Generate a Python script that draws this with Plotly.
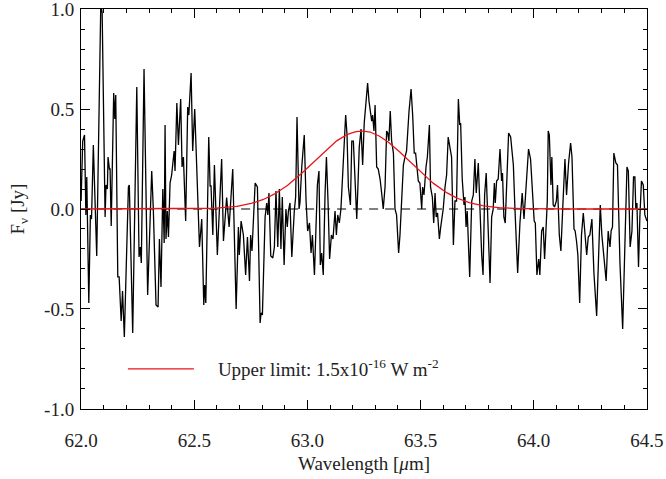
import numpy as np
import plotly.graph_objects as go

wavelength = [
    62.000, 62.007, 62.015, 62.021, 62.025, 62.034, 62.041, 62.046, 62.054, 62.069,
    62.087, 62.093, 62.106, 62.110, 62.116, 62.119, 62.125, 62.128, 62.133, 62.144,
    62.149, 62.153, 62.162, 62.168, 62.177, 62.183, 62.191, 62.203, 62.209, 62.213,
    62.228, 62.246, 62.256, 62.261, 62.266, 62.278, 62.294, 62.312, 62.319, 62.331,
    62.340, 62.346, 62.353, 62.361, 62.367, 62.371,
    62.375, 62.381, 62.386, 62.393, 62.400, 62.411, 62.415, 62.423, 62.430, 62.440,
    62.446, 62.452, 62.462, 62.471, 62.476, 62.486, 62.493, 62.502, 62.514, 62.523,
    62.533, 62.542, 62.546, 62.551, 62.564, 62.570, 62.574, 62.582, 62.589, 62.593,
    62.602, 62.621, 62.629, 62.643, 62.654, 62.670, 62.685, 62.695, 62.699, 62.707,
    62.717, 62.727, 62.735, 62.744, 62.749, 62.755, 62.769, 62.779,
    62.791, 62.795, 62.801, 62.813, 62.820, 62.825, 62.830, 62.838, 62.847, 62.854,
    62.861, 62.869, 62.876, 62.883, 62.889, 62.897, 62.905, 62.911, 62.916, 62.923,
    62.931, 62.942, 62.948, 62.954, 62.963, 62.967, 62.975, 62.986, 62.994, 63.001,
    63.009, 63.016, 63.022, 63.031, 63.038, 63.044, 63.051, 63.057, 63.063, 63.070,
    63.078, 63.084, 63.091, 63.098, 63.106, 63.113, 63.122, 63.128, 63.134, 63.141,
    63.148, 63.157, 63.162, 63.169, 63.175, 63.181, 63.190, 63.196, 63.203,
    63.210, 63.218, 63.223, 63.229, 63.237, 63.244, 63.251, 63.259, 63.266, 63.272,
    63.279, 63.284, 63.288, 63.294, 63.299, 63.306, 63.313, 63.321, 63.328, 63.335,
    63.343, 63.350, 63.355, 63.360, 63.366, 63.372, 63.380, 63.387, 63.394, 63.403,
    63.409, 63.416, 63.424, 63.431, 63.438, 63.449, 63.458, 63.465, 63.472, 63.478,
    63.484, 63.490, 63.497, 63.505, 63.509, 63.515, 63.524, 63.530, 63.539, 63.544,
    63.552, 63.558, 63.564, 63.569, 63.575, 63.583, 63.589, 63.600, 63.608, 63.615,
    63.622, 63.630,
    63.637, 63.645, 63.652, 63.659, 63.667, 63.673, 63.677, 63.684, 63.692, 63.696,
    63.701, 63.706, 63.711, 63.717, 63.726, 63.733, 63.740, 63.746, 63.755, 63.762,
    63.770, 63.776, 63.783, 63.790, 63.799, 63.807, 63.814, 63.821, 63.826, 63.830,
    63.836, 63.843, 63.851, 63.858, 63.862, 63.868, 63.874, 63.882, 63.889, 63.898,
    63.910, 63.917, 63.929, 63.939, 63.949, 63.957, 63.968, 63.977, 63.986, 63.995,
    64.002, 64.007, 64.014, 64.022, 64.027,
    64.035, 64.042, 64.048, 64.054, 64.060, 64.064, 64.069, 64.076, 64.080, 64.086,
    64.092, 64.100, 64.105, 64.113, 64.120, 64.128, 64.138, 64.145, 64.154, 64.163,
    64.169, 64.178, 64.183, 64.189, 64.195, 64.203, 64.211, 64.219, 64.226, 64.234,
    64.241, 64.248, 64.257, 64.266, 64.278, 64.285, 64.294, 64.301, 64.310, 64.320,
    64.329, 64.337, 64.342, 64.348, 64.354, 64.363, 64.370, 64.381, 64.393, 64.403,
    64.412, 64.418, 64.426, 64.434, 64.441, 64.447, 64.451, 64.456, 64.463, 64.469,
    64.476, 64.484, 64.491, 64.500,
]

flux = [
    0.04, 0.34, 0.37, -0.03, 0.16, -0.47, -0.03, -0.05, 0.32, -0.235,
    1.03, 0.98, -0.04, 0.12, 0.10, 0.26, 0.20, 0.20, -0.085, 0.58,
    0.45, 0.57, -0.34, -0.34, -0.56, -0.41, -0.64, -0.03, 0.11, 0.12,
    -0.62, 0.61, -0.24, -0.19, -0.27, 0.70, -0.43, 0.19, 0.00, -0.48,
    -0.49, -0.15, -0.39, 0.10, -0.17, 0.42,
    -0.15, -0.01, -0.14, 0.13, 0.17, 0.29, 0.19, 0.53, 0.32, 0.55,
    0.21, 0.26, -0.06, 0.51, 0.47, 0.68, 0.29, 0.50, 0.04, -0.19,
    -0.05, -0.48, -0.38, -0.47, 0.36, 0.115, 0.115, -0.13, 0.22, 0.09,
    -0.23, 0.25, -0.16, 0.057, -0.09, 0.20, -0.50, -0.09, -0.23, -0.06,
    -0.13, -0.33, -0.14, -0.36, -0.13, -0.21, 0.13, 0.11,
    -0.57, -0.52, -0.53, -0.04, 0.03, -0.03, 0.08, -0.235, -0.245, -0.19,
    0.09, -0.19, 0.10, -0.20, 0.06, -0.28, 0.00, -0.09, -0.01, 0.03,
    -0.24, -0.01, 0.06, 0.46, 0.00, 0.03, 0.21, 0.37, 0.04, -0.11,
    -0.07, -0.22, -0.13, -0.33, -0.10, 0.12, 0.19, -0.28, -0.22, -0.33,
    0.08, 0.26, 0.04, -0.25, -0.13, -0.15, -0.01, -0.13, -0.03, -0.07,
    0.00, 0.22, 0.29, 0.47, 0.37, 0.11, 0.02, 0.34, 0.34,
    0.14, -0.05, 0.11, 0.31, 0.40, 0.22, 0.43, 0.55, 0.63, 0.54,
    0.48, 0.44, 0.47, 0.39, 0.52, 0.21, 0.20, 0.15, 0.08, 0.00,
    0.11, 0.39, 0.38, 0.34, 0.49, 0.34, 0.28, 0.00, -0.03, -0.22,
    -0.13, 0.05, 0.22, 0.26, 0.29, 0.49, 0.60, 0.47, 0.28, 0.28,
    0.22, 0.14, 0.13, 0.00, 0.11, 0.07, 0.21, 0.26, 0.42, 0.11,
    0.06, -0.07, 0.08, -0.04, -0.02, -0.15, -0.09, 0.00, 0.11, 0.17,
    0.36, 0.31,
    0.26, -0.18, 0.04, 0.04, 0.55, 0.42, 0.43, 0.15, 0.02, 0.06,
    -0.09, -0.01, -0.19, -0.34, 0.04, 0.07, 0.25, 0.08, 0.23, -0.04,
    -0.23, -0.33, 0.07, 0.18, -0.17, -0.37, -0.04, 0.00, 0.13, 0.03,
    0.14, 0.15, 0.30, 0.14, 0.18, -0.04, -0.07, 0.22, 0.38, 0.36,
    0.22, 0.00, -0.32, -0.07, 0.08, -0.05, 0.15, 0.30, 0.25, 0.05,
    -0.06, -0.07, -0.33, -0.25, -0.33,
    -0.11, -0.09, -0.25, -0.05, 0.04, 0.39, 0.37, 0.12, 0.26, 0.02,
    0.01, 0.04, 0.12, -0.13, -0.21, 0.00, 0.25, 0.07, 0.23, 0.33,
    0.26, -0.10, -0.11, -0.16, -0.23, -0.47, -0.13, -0.02, -0.14, -0.23,
    -0.14, -0.13, -0.05, -0.32, -0.535, -0.24, 0.02, -0.13, -0.23, -0.36,
    -0.11, -0.19, -0.11, -0.09, 0.28, 0.23, 0.22, -0.27, -0.60, -0.17,
    0.21, 0.19, -0.19, -0.11, 0.16, 0.16, 0.00, 0.03, -0.29, -0.04,
    0.14, 0.12, -0.03, -0.06,
]

# Gaussian upper-limit line model
line_center = 63.24   # micron
line_peak = 0.39      # Jy
line_fwhm = 0.50      # micron
legend_label = "\u00a0\u00a0\u00a0\u00a0Upper limit: 1.5x10<sup>-16</sup> W m<sup>-2</sup>"

x_ticks = [62.0, 62.5, 63.0, 63.5, 64.0, 64.5]
y_ticks = [-1.0, -0.5, 0.0, 0.5, 1.0]

xm = np.linspace(62.0, 64.5, 600)
sig = line_fwhm / (2 * np.sqrt(2 * np.log(2)))
model = line_peak * np.exp(-0.5 * ((xm - line_center) / sig) ** 2)

FONT = "Liberation Serif, Times New Roman, serif"

fig = go.Figure()
fig.add_trace(go.Scatter(x=[62.0, 64.5], y=[0, 0], mode="lines",
                         line=dict(color="black", width=1, dash="9px,7px"),
                         showlegend=False, hoverinfo="skip"))
fig.add_trace(go.Scatter(x=wavelength, y=flux, mode="lines",
                         line=dict(color="black", width=1.3),
                         showlegend=False))
fig.add_trace(go.Scatter(x=xm, y=model, mode="lines",
                         line=dict(color="#e8141a", width=1.3),
                         name=legend_label, showlegend=True))

axis_common = dict(
    showline=True, linecolor="black", linewidth=1, mirror="allticks",
    ticks="inside", ticklen=9, tickwidth=1, tickcolor="black",
    showgrid=False, zeroline=False, ticklabeloverflow="allow",
    automargin=False,
    tickfont=dict(family=FONT, size=19, color="#222"),
)

fig.update_xaxes(range=[61.9995, 64.5005], tickvals=x_ticks,
                 ticktext=[f"{v:.1f}" for v in x_ticks],
                 minor=dict(ticks="inside", ticklen=4, dtick=0.1,
                            tick0=62.0, tickcolor="black", showgrid=False),
                 ticklabelstandoff=14,
                 title=dict(text="Wavelength [<i>μ</i>m]",
                            font=dict(family=FONT, size=19, color="#222"),
                            standoff=6),
                 **axis_common)
fig.update_yaxes(range=[-1.0005, 1.0005], tickvals=y_ticks,
                 ticktext=[f"{v:.1f}" for v in y_ticks],
                 minor=dict(ticks="inside", ticklen=4, dtick=0.1,
                            tick0=0, tickcolor="black", showgrid=False),
                 ticklabelstandoff=2,
                 title=dict(text="F<sub>ν</sub> [Jy]",
                            font=dict(family=FONT, size=19, color="#222"),
                            standoff=14),
                 **axis_common)

fig.update_layout(
    width=666, height=479,
    margin=dict(l=81, r=19, t=9, b=70),
    paper_bgcolor="white", plot_bgcolor="white",
    showlegend=True,
    legend=dict(x=0.074, y=0.10, xanchor="left", yanchor="middle",
                bgcolor="rgba(0,0,0,0)", itemwidth=66,
                font=dict(family=FONT, size=19, color="#222")),
)

fig.write_html("out.html", config={"displayModeBar": False},
               post_script="document.body.style.margin='0';document.body.style.padding='0';")
